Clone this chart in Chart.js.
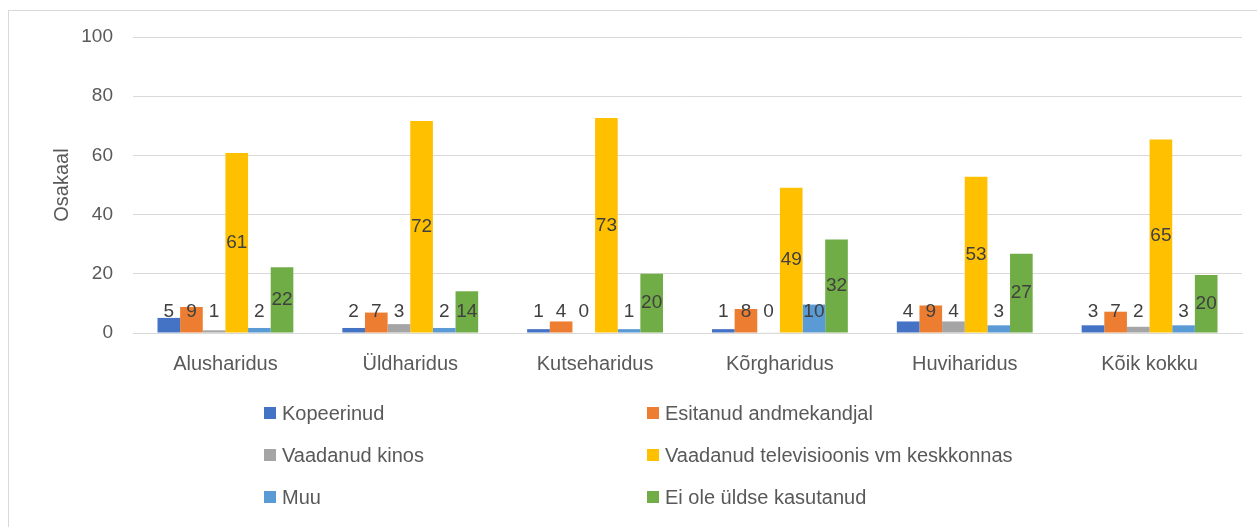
<!DOCTYPE html>
<html>
<head>
<meta charset="utf-8">
<script src="https://cdn.jsdelivr.net/npm/chart.js@4.4.1/dist/chart.umd.min.js"></script>
<style>
  html, body { margin: 0; padding: 0; background: #fff; }
  #wrap { position: relative; width: 1257px; height: 527px; overflow: hidden; }
  #frame { position: absolute; left: 8px; top: 10px; width: 1300px; height: 600px; border: 1px solid #d9d9d9; box-sizing: border-box; }
  canvas { position: absolute; left: 0; top: 0; }
</style>
</head>
<body>
<div id="wrap">
  <div id="frame"></div>
  <canvas id="c" width="1257" height="527"></canvas>
</div>
<script>
const categories = ["Alusharidus", "Üldharidus", "Kutseharidus", "Kõrgharidus", "Huviharidus", "Kõik kokku"];
const seriesNames = ["Kopeerinud", "Esitanud andmekandjal", "Vaadanud kinos", "Vaadanud televisioonis vm keskkonnas", "Muu", "Ei ole üldse kasutanud"];
const kopeerinud = [5.1, 1.7, 1.3, 1.3, 3.9, 2.6];
const esitanud = [8.8, 6.9, 3.9, 8.1, 9.3, 7.2];
const kinos = [0.9, 3.0, 0.0, 0.2, 3.9, 2.1];
const televisioon = [60.8, 71.6, 72.6, 49.1, 52.8, 65.4];
const muu = [1.7, 1.7, 1.3, 9.6, 2.6, 2.6];
const eiOle = [22.2, 14.1, 20.0, 31.6, 26.8, 19.6];
const yTicks = [0, 20, 40, 60, 80, 100];
const colors = ["#4472C4", "#ED7D31", "#A5A5A5", "#FFC000", "#5B9BD5", "#70AD47"];

const seriesValues = [kopeerinud, esitanud, kinos, televisioon, muu, eiOle];
const FONT = "'Liberation Sans', Arial, sans-serif";

const labelPlugin = {
  id: 'barLabels',
  afterDatasetsDraw(chart) {
    const ctx = chart.ctx;
    ctx.save();
    ctx.font = "19px " + FONT;
    ctx.fillStyle = "#404040";
    ctx.textAlign = "center";
    ctx.textBaseline = "middle";
    chart.data.datasets.forEach((ds, i) => {
      const meta = chart.getDatasetMeta(i);
      meta.data.forEach((bar, j) => {
        const mid = (bar.y + bar.base) / 2;
        const y = Math.min(mid, bar.base - 21);
        ctx.fillText(String(Math.round(ds.data[j])), bar.x, y);
      });
    });
    ctx.restore();
  }
};

const legendPlugin = {
  id: 'gridLegend',
  afterDraw(chart) {
    const ctx = chart.ctx;
    ctx.save();
    ctx.font = "20px " + FONT;
    ctx.textBaseline = "middle";
    ctx.textAlign = "left";
    const colX = [264, 647];
    const rowY = [413, 455, 497];
    chart.data.datasets.forEach((ds, i) => {
      const x = colX[i % 2];
      const y = rowY[Math.floor(i / 2)];
      ctx.fillStyle = ds.backgroundColor;
      ctx.fillRect(x, y - 6, 12, 12);
      ctx.fillStyle = "#595959";
      ctx.fillText(ds.label, x + 18, y + 1);
    });
    ctx.restore();
  }
};

new Chart(document.getElementById('c'), {
  type: 'bar',
  data: {
    labels: categories,
    datasets: seriesNames.map((name, i) => ({
      label: name,
      data: seriesValues[i],
      backgroundColor: colors[i],
      borderWidth: 0,
      barPercentage: 1,
      categoryPercentage: 0.735
    }))
  },
  options: {
    responsive: false,
    animation: false,
    layout: { padding: { left: 0, right: 15, top: 37, bottom: 0 } },
    plugins: { legend: { display: false }, tooltip: { enabled: false } },
    scales: {
      x: {
        grid: { display: false, drawTicks: false },
        border: { display: true, color: '#d9d9d9', width: 1 },
        ticks: { color: '#595959', font: { family: FONT, size: 20 }, padding: 19, maxRotation: 0 },
        afterFit(s) { s.height = 194; }
      },
      y: {
        min: 0, max: 100,
        afterBuildTicks(s) { s.ticks = yTicks.map(v => ({ value: v })); },
        grid: { color: '#d9d9d9', drawTicks: false },
        border: { display: false },
        ticks: { color: '#595959', font: { family: FONT, size: 19 }, padding: 20 },
        title: { display: true, text: 'Osakaal', color: '#595959', font: { family: FONT, size: 20 }, padding: { top: 50, bottom: 0 } },
        afterFit(s) { s.width = 133; }
      }
    }
  },
  plugins: [labelPlugin, legendPlugin]
});
</script>
</body>
</html>
